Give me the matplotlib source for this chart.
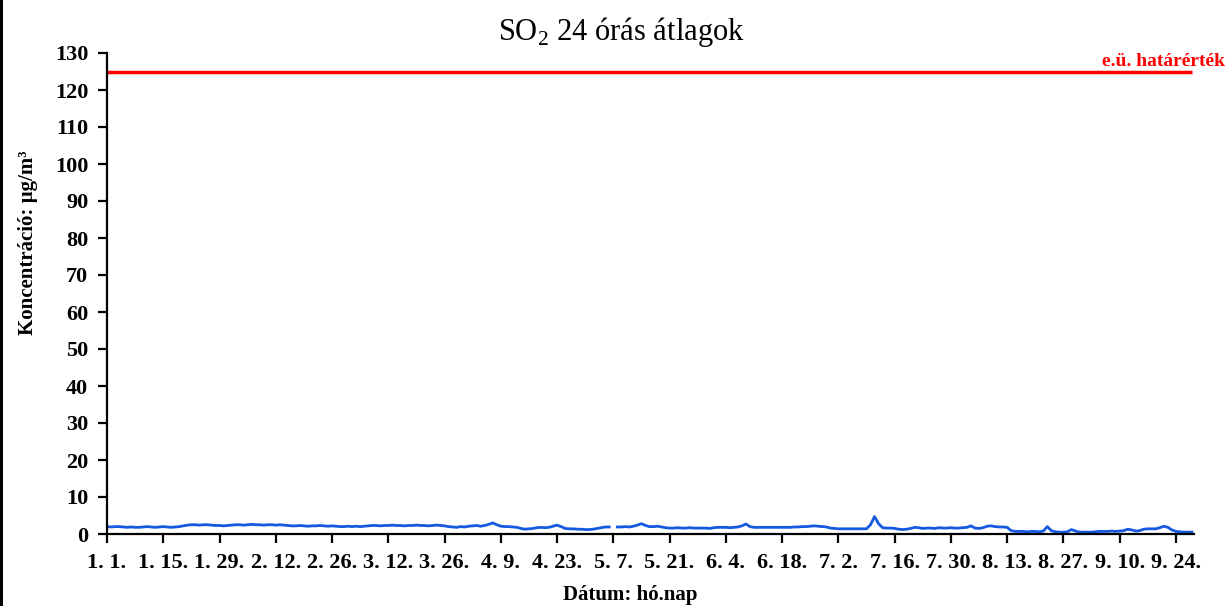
import matplotlib
matplotlib.use("Agg")
import matplotlib.pyplot as plt
import numpy as np
import pandas as pd
from matplotlib.patches import Rectangle

# SO2 daily means (ug/m3), 1 Jan - 28 Sep
jan = [2.0, 1.9, 2.0, 2.0, 1.9, 1.8, 1.9, 1.8, 1.8, 1.9, 2.0, 1.9, 1.8, 1.9, 2.0, 1.9,
       1.8, 1.9, 2.0, 2.2, 2.4, 2.5, 2.5, 2.4, 2.5, 2.5, 2.4, 2.3, 2.3, 2.2, 2.3]
feb = [2.4, 2.5, 2.5, 2.4, 2.5, 2.6, 2.5, 2.5, 2.4, 2.5, 2.5, 2.4, 2.5, 2.4, 2.3, 2.2,
       2.2, 2.3, 2.2, 2.1, 2.2, 2.2, 2.3, 2.2, 2.1, 2.2, 2.1, 2.0]
mar = [2.0, 2.1, 2.0, 2.1, 2.0, 2.1, 2.2, 2.3, 2.3, 2.2, 2.3, 2.3, 2.4, 2.3, 2.3, 2.2,
       2.3, 2.3, 2.4, 2.3, 2.3, 2.2, 2.3, 2.4, 2.3, 2.2, 2.0, 1.9, 1.8, 2.0, 1.9]
apr = [2.1, 2.2, 2.3, 2.1, 2.3, 2.6, 3.0, 2.5, 2.1, 2.0, 2.0, 1.9, 1.8, 1.5, 1.3, 1.4,
       1.5, 1.7, 1.8, 1.7, 1.8, 2.1, 2.4, 2.0, 1.5, 1.4, 1.4, 1.3, 1.3, 1.2]
may = [1.2, 1.3, 1.5, 1.7, 1.9, 1.9, np.nan, 1.9, 1.9, 2.0, 1.9, 2.1, 2.4, 2.8, 2.3, 2.0,
       2.0, 2.1, 1.9, 1.7, 1.6, 1.6, 1.7, 1.6, 1.6, 1.7, 1.6, 1.6, 1.6, 1.6, 1.5]
jun = [1.7, 1.8, 1.8, 1.8, 1.7, 1.8, 1.9, 2.2, 2.7, 2.0, 1.8, 1.8, 1.8, 1.8, 1.8, 1.8,
       1.8, 1.8, 1.8, 1.8, 1.9, 1.9, 2.0, 2.0, 2.1, 2.2, 2.1, 2.0, 1.9, 1.6]
jul = [1.5, 1.4, 1.4, 1.4, 1.4, 1.4, 1.4, 1.4, 1.4, 2.5, 4.7, 2.8, 1.7, 1.6, 1.6, 1.5,
       1.3, 1.2, 1.3, 1.5, 1.8, 1.7, 1.5, 1.6, 1.6, 1.5, 1.7, 1.6, 1.6, 1.7, 1.6]
aug = [1.6, 1.7, 1.8, 2.2, 1.6, 1.5, 1.7, 2.1, 2.2, 2.0, 1.9, 1.9, 1.8, 0.9, 0.7, 0.7,
       0.7, 0.6, 0.7, 0.7, 0.6, 0.8, 2.0, 0.9, 0.6, 0.5, 0.5, 0.6, 1.2, 0.8, 0.5]
sep = [0.5, 0.5, 0.5, 0.6, 0.7, 0.7, 0.7, 0.8, 0.7, 0.8, 0.9, 1.3, 1.1, 0.8, 0.9, 1.3,
       1.4, 1.4, 1.4, 1.7, 2.1, 1.8, 1.1, 0.7, 0.6, 0.5, 0.5, 0.5]

so2 = jan + feb + mar + apr + may + jun + jul + aug + sep
limit_value = 125  # e.u. hatarertek
start_date = '2009-01-01'

title = 'SO$_\\mathrm{2}$ 24 órás átlagok'
ylabel = 'Koncentráció: µg/m³'
xlabel = 'Dátum: hó.nap'
limit_label = 'e.ü. határérték'

plt.rcParams['font.family'] = ['Liberation Serif', 'DejaVu Serif']
plt.rcParams['mathtext.fontset'] = 'custom'
plt.rcParams['mathtext.rm'] = 'Liberation Serif'

dates = pd.date_range(start_date, periods=len(so2), freq='D')
tick_dates = pd.date_range(start_date, dates[-1], freq='14D')
tick_labels = [f'{d.month}. {d.day}.' for d in tick_dates]

fig = plt.figure(figsize=(12.29, 6.06), dpi=100)
ax = fig.add_axes([107/1229, 1-534/606, (1194-107)/1229, (534-53)/606])

ax.plot(dates, so2, color='#1559e0', lw=2.0)
ax.hlines(limit_value, dates[0], dates[-1], color='#ff0000', lw=2.5)

ax.set_ylim(0, 130)
ax.set_yticks(np.arange(0, 131, 10))
ax.set_xlim(dates[0], dates[-1] + pd.Timedelta(hours=12))
ax.set_xticks(tick_dates)
ax.set_xticklabels(tick_labels)

for s in ['top', 'right']:
    ax.spines[s].set_visible(False)
for s in ['left', 'bottom']:
    ax.spines[s].set_linewidth(1.6)
ax.tick_params(axis='both', direction='out', length=6.5, width=1.6, labelsize=16)
ax.tick_params(axis='y', pad=7)
ax.tick_params(axis='x', pad=7)
for lab in ax.get_xticklabels() + ax.get_yticklabels():
    lab.set_fontweight('bold')

fig.text(621/1229, 1-32/606, title, ha='center', va='center', fontsize=22)
fig.text(28/1229, 1-243/606, ylabel, rotation=90, ha='center', va='center',
         fontsize=15, fontweight='bold')
fig.text(630/1229, 1-595/606, xlabel, ha='center', va='center',
         fontsize=15, fontweight='bold')
fig.text(1225/1229, 1-61/606, limit_label, ha='right', va='center',
         fontsize=14, fontweight='bold', color='#ff0000')

# dark border at left edge of the scan
fig.add_artist(Rectangle((0, 0), 3/1229, 1, transform=fig.transFigure,
                         color='black', lw=0))

fig.savefig('out.png', dpi=100)
